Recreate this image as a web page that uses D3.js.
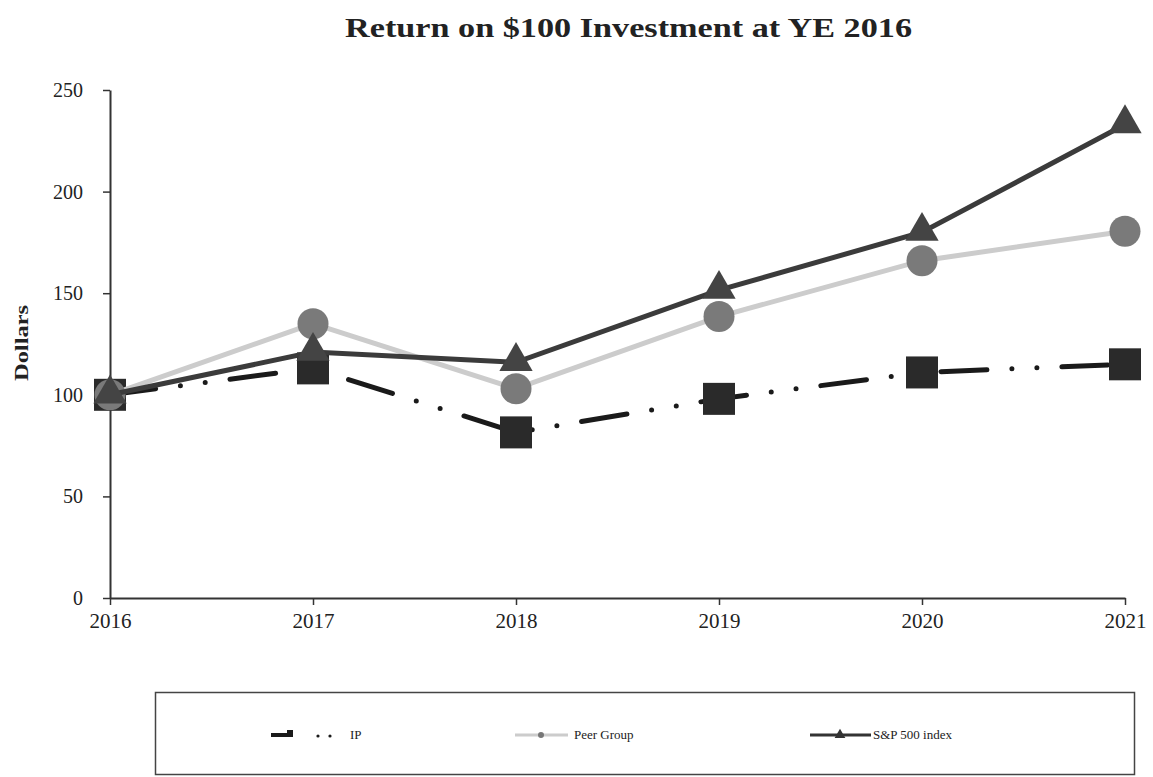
<!DOCTYPE html>
<html>
<head>
<meta charset="utf-8">
<script src="https://cdn.jsdelivr.net/npm/d3@7"></script>
<style>
  body { margin: 0; background: #fff; }
  svg text { font-family: "Liberation Serif", "Times New Roman", serif; fill: #222; }
</style>
</head>
<body>
<script>
const years = [2016, 2017, 2018, 2019, 2020, 2021]
const ip = [100, 113, 81.5, 98, 111, 115]
const peer = [100, 135, 103, 138.5, 166, 180.5]
const sp = [100, 121, 116, 151.5, 180, 233]
const yTicks = [0, 50, 100, 150, 200, 250]

const W = 1153, H = 777
const margins = { top: 90, right: 28, bottom: 179, left: 110 }
const width = W - margins.left - margins.right
const height = H - margins.top - margins.bottom

const svg = d3.select('body').append('svg')
  .attr('width', W)
  .attr('height', H)

svg.append('text')
  .attr('x', 345)
  .attr('y', 37)
  .attr('font-weight', 'bold')
  .attr('font-size', 28)
  .attr('textLength', 567)
  .attr('lengthAdjust', 'spacingAndGlyphs')
  .text('Return on $100 Investment at YE 2016')

const g = svg.append('g')
  .attr('transform', 'translate(' + [margins.left, margins.top] + ')')

const x = d3.scaleLinear().domain([2016, 2021]).range([0, width])
const y = d3.scaleLinear().domain([0, 250]).range([height, 0])

const yAxis = g.append('g')
  .call(d3.axisLeft(y).tickValues(yTicks).tickSize(7).tickSizeOuter(0).tickPadding(20))
yAxis.selectAll('text').attr('font-size', 20).attr('font-family', '"Liberation Serif", serif').attr('fill', '#333')

const xAxis = g.append('g')
  .attr('transform', 'translate(0,' + height + ')')
  .call(d3.axisBottom(x).tickValues(years).tickFormat(d3.format('d')).tickSize(7).tickSizeOuter(0).tickPadding(8))
xAxis.selectAll('text').attr('font-size', 21).attr('font-family', '"Liberation Serif", serif').attr('fill', '#333')

g.selectAll('.domain').attr('stroke', '#333').attr('stroke-width', 2)
g.selectAll('.tick line').attr('stroke', '#333').attr('stroke-width', 1.5)

svg.append('text')
  .attr('transform', 'translate(28,343) rotate(-90)')
  .attr('text-anchor', 'middle')
  .attr('font-weight', 'bold')
  .attr('font-size', 19)
  .attr('textLength', 76)
  .attr('lengthAdjust', 'spacingAndGlyphs')
  .text('Dollars')

const line = d3.line()
  .x((d, i) => x(years[i]))
  .y((d) => y(d))

const ipDash = '46 25 0 25 0 25'

// IP
g.append('path')
  .attr('fill', 'none')
  .attr('stroke', '#1a1a1a')
  .attr('stroke-width', 5)
  .attr('stroke-linecap', 'round')
  .attr('stroke-dasharray', ipDash)
  .attr('d', line(ip))

g.selectAll('.sq')
  .data(ip)
  .enter().append('rect')
  .attr('x', (d, i) => x(years[i]) - 16)
  .attr('y', (d) => y(d) - 16)
  .attr('width', 32)
  .attr('height', 32)
  .attr('fill', '#2a2a2a')

// Peer
g.append('path')
  .attr('fill', 'none')
  .attr('stroke', '#cccccc')
  .attr('stroke-width', 5)
  .attr('d', line(peer))

g.selectAll('.ci')
  .data(peer)
  .enter().append('circle')
  .attr('cx', (d, i) => x(years[i]))
  .attr('cy', (d) => y(d))
  .attr('r', 15.5)
  .attr('fill', '#7a7a7a')

// S&P
g.append('path')
  .attr('fill', 'none')
  .attr('stroke', '#3b3b3b')
  .attr('stroke-width', 5)
  .attr('d', line(sp))

const tri = d3.symbol().type(d3.symbolTriangle).size(480)
g.selectAll('.tr')
  .data(sp)
  .enter().append('path')
  .attr('transform', (d, i) => 'translate(' + [x(years[i]), y(d) - 1] + ')')
  .attr('d', tri())
  .attr('fill', '#444444')

// legend
const lg = svg.append('g')
lg.append('rect')
  .attr('x', 155.5)
  .attr('y', 692.5)
  .attr('width', 979)
  .attr('height', 82)
  .attr('fill', '#fff')
  .attr('stroke', '#444')
  .attr('stroke-width', 1.5)

const ly = 735
lg.append('line')
  .attr('x1', 271).attr('x2', 292).attr('y1', ly).attr('y2', ly)
  .attr('stroke', '#1a1a1a').attr('stroke-width', 4)
lg.append('rect')
  .attr('x', 287).attr('y', ly - 5).attr('width', 6).attr('height', 7)
  .attr('fill', '#1a1a1a')
lg.selectAll('.dot')
  .data([318, 330])
  .enter().append('circle')
  .attr('cx', (d) => d).attr('cy', ly + 1).attr('r', 1.6).attr('fill', '#1a1a1a')
lg.append('text').attr('x', 350).attr('y', ly + 4).attr('font-size', 13).text('IP')

lg.append('line')
  .attr('x1', 515).attr('x2', 568).attr('y1', ly).attr('y2', ly)
  .attr('stroke', '#cccccc').attr('stroke-width', 3)
lg.append('circle').attr('cx', 541).attr('cy', ly).attr('r', 3).attr('fill', '#777')
lg.append('text').attr('x', 574).attr('y', ly + 4).attr('font-size', 13).text('Peer Group')

lg.append('line')
  .attr('x1', 810).attr('x2', 871).attr('y1', ly).attr('y2', ly)
  .attr('stroke', '#333').attr('stroke-width', 3)
lg.append('path')
  .attr('transform', 'translate(' + [840, ly] + ')')
  .attr('d', d3.symbol().type(d3.symbolTriangle).size(50)())
  .attr('fill', '#333')
lg.append('text').attr('x', 873).attr('y', ly + 4).attr('font-size', 13).text('S&P 500 index')
</script>
</body>
</html>
